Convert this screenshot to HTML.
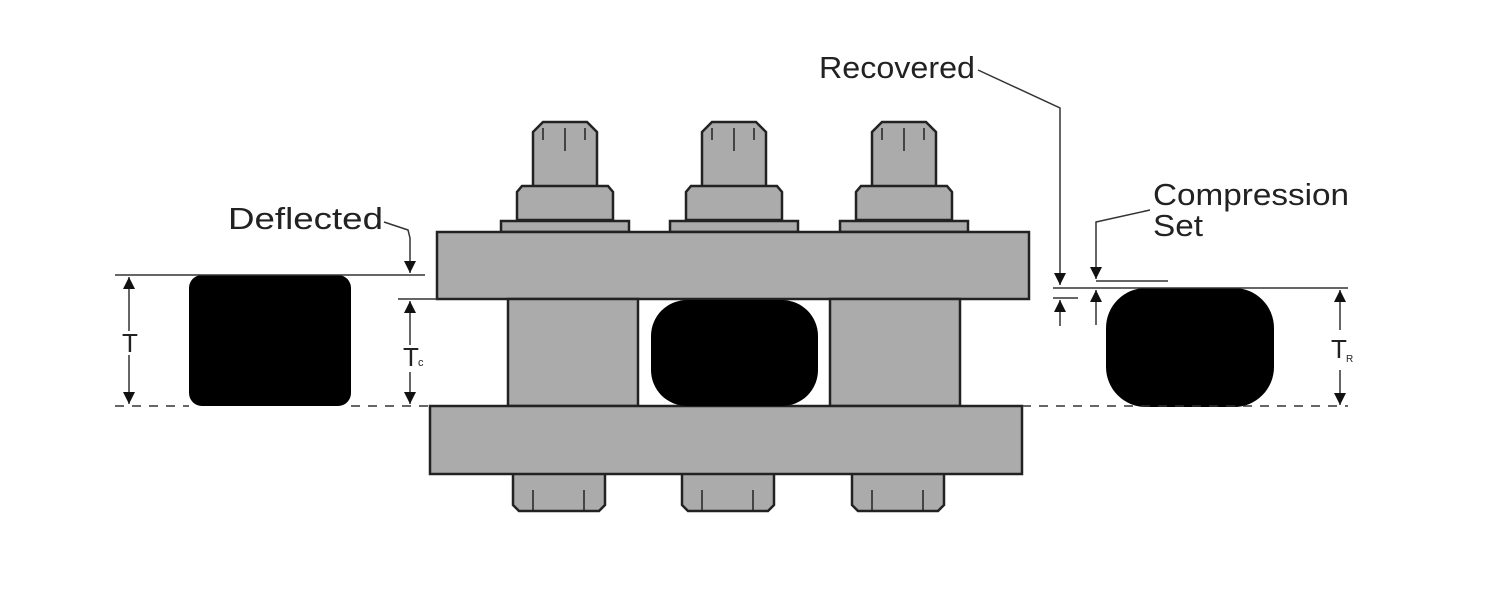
<!DOCTYPE html>
<html><head><meta charset="utf-8"><style>
html,body{margin:0;padding:0;background:#fff;}
svg{display:block;}
text{font-family:"Liberation Sans",sans-serif;fill:#222;}
</style></head><body>
<svg width="1494" height="590" viewBox="0 0 1494 590" xmlns="http://www.w3.org/2000/svg">
<defs>
<marker id="ah" viewBox="0 0 10 10" refX="10" refY="5" markerWidth="12" markerHeight="12" markerUnits="userSpaceOnUse" orient="auto"><path d="M0,0 L10,5 L0,10 z" fill="#111"/></marker>
<g id="bolt" fill="#ababab" stroke="#222" stroke-width="2.5">
<path d="M-32,187 L-32,132 L-22,122 L22,122 L32,132 L32,187 Z"/>
<path d="M-48,220 L-48,192 L-43,186 L43,186 L48,192 L48,220 Z"/>
<rect x="-64" y="221" width="128" height="11"/>
<path d="M-52,474 L-52,505 L-46,511 L34,511 L40,505 L40,474" />
<line x1="-22" y1="128" x2="-22" y2="140" stroke-width="1.5"/>
<line x1="0" y1="128" x2="0" y2="151" stroke-width="1.5"/>
<line x1="20" y1="128" x2="20" y2="140" stroke-width="1.5"/>
<line x1="-32" y1="490" x2="-32" y2="510" stroke-width="1.5"/>
<line x1="19" y1="490" x2="19" y2="510" stroke-width="1.5"/>
</g>
</defs>

<use href="#bolt" transform="translate(565,0)"/>
<use href="#bolt" transform="translate(734,0)"/>
<use href="#bolt" transform="translate(904,0)"/>

<g fill="#ababab" stroke="#222" stroke-width="2.5">
<rect x="437" y="232" width="592" height="67"/>
<rect x="508" y="299" width="130" height="107"/>
<rect x="830" y="299" width="130" height="107"/>
<rect x="430" y="406" width="592" height="68"/>
</g>

<rect x="651" y="300" width="167" height="106" rx="36" fill="#000"/>
<rect x="189" y="275" width="162" height="131" rx="13" fill="#000"/>
<rect x="1106" y="288" width="168" height="119" rx="40" fill="#000"/>

<g stroke="#333" stroke-width="1.5" fill="none">
<line x1="115" y1="275" x2="425" y2="275"/>
<line x1="115" y1="406" x2="189" y2="406" stroke-dasharray="9,8"/>
<line x1="351" y1="406" x2="430" y2="406" stroke-dasharray="9,8"/>
<line x1="398" y1="299" x2="437" y2="299"/>
<line x1="129" y1="340" x2="129" y2="277" marker-end="url(#ah)"/>
<line x1="129" y1="348" x2="129" y2="404" marker-end="url(#ah)"/>
<line x1="410" y1="345" x2="410" y2="301" marker-end="url(#ah)"/>
<line x1="410" y1="372" x2="410" y2="404" marker-end="url(#ah)"/>
<polyline points="384,222 408,230 410,238 410,273" marker-end="url(#ah)"/>

<polyline points="978,70 1060,108 1060,285" marker-end="url(#ah)"/>
<line x1="1053" y1="288" x2="1348" y2="288"/>
<line x1="1053" y1="298" x2="1078" y2="298"/>
<line x1="1060" y1="326" x2="1060" y2="300" marker-end="url(#ah)"/>
<polyline points="1150,210 1096,222 1096,279" marker-end="url(#ah)"/>
<line x1="1096" y1="281" x2="1168" y2="281"/>
<line x1="1096" y1="325" x2="1096" y2="290" marker-end="url(#ah)"/>
<line x1="1340" y1="330" x2="1340" y2="290" marker-end="url(#ah)"/>
<line x1="1340" y1="370" x2="1340" y2="405" marker-end="url(#ah)"/>
<line x1="1022" y1="406" x2="1348" y2="406" stroke-dasharray="9,8"/>
</g>

<text x="228" y="229" font-size="31" textLength="155" lengthAdjust="spacingAndGlyphs">Deflected</text>
<text x="819" y="78" font-size="31" textLength="156" lengthAdjust="spacingAndGlyphs">Recovered</text>
<text x="1153" y="205" font-size="31" textLength="196" lengthAdjust="spacingAndGlyphs">Compression</text>
<text x="1153" y="236" font-size="31" textLength="50" lengthAdjust="spacingAndGlyphs">Set</text>
<text x="122" y="352" font-size="26" style="fill:#fff;stroke:#fff;stroke-width:6">T</text>
<text x="122" y="352" font-size="26">T</text>
<rect x="402" y="346" width="30" height="24" fill="#fff"/>
<text x="403" y="366" font-size="26">T</text>
<text x="418" y="366" font-size="11">c</text>
<rect x="1330" y="330" width="28" height="40" fill="#fff"/>
<text x="1331" y="358" font-size="26">T</text>
<text x="1346" y="362" font-size="10">R</text>
</svg>
</body></html>
